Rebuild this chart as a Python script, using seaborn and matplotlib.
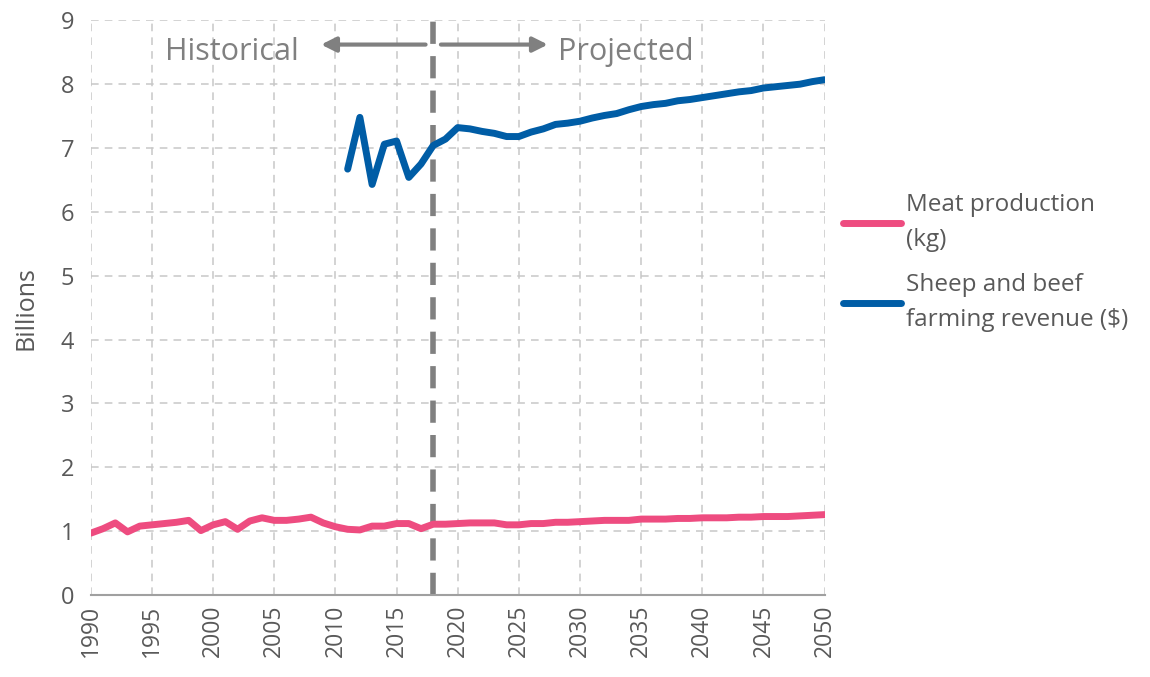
import pandas as pd
import numpy as np
from matplotlib import pyplot as plt
import seaborn as sns

# values (billions)
meat_years = list(range(1990, 2051))
meat_prod = [0.97, 1.04, 1.13, 0.99, 1.08, 1.10, 1.12, 1.14, 1.17, 1.01,
             1.10, 1.15, 1.03, 1.16, 1.21, 1.17, 1.17, 1.19, 1.22, 1.13,
             1.07, 1.03, 1.02, 1.08, 1.08, 1.12, 1.12, 1.04, 1.11, 1.11,
             1.12, 1.13, 1.13, 1.13, 1.10, 1.10, 1.12, 1.12, 1.14, 1.14,
             1.15, 1.16, 1.17, 1.17, 1.17, 1.19, 1.19, 1.19, 1.20, 1.20,
             1.21, 1.21, 1.21, 1.22, 1.22, 1.23, 1.23, 1.23, 1.24, 1.25,
             1.26]
rev_years = list(range(2011, 2051))
revenue = [6.67, 7.48, 6.43, 7.06, 7.11, 6.54, 6.75, 7.04, 7.14, 7.32,
           7.30, 7.26, 7.23, 7.18, 7.18, 7.25, 7.30, 7.37, 7.39, 7.42,
           7.47, 7.51, 7.54, 7.60, 7.65, 7.68, 7.70, 7.74, 7.76, 7.79,
           7.82, 7.85, 7.88, 7.90, 7.94, 7.96, 7.98, 8.00, 8.04, 8.07]

series_names = ["Meat production\n(kg)", "Sheep and beef\nfarming revenue ($)"]
colors = ["#EE4C80", "#005DA6"]

df = pd.concat([
    pd.DataFrame({"year": meat_years, "value": meat_prod, "series": series_names[0]}),
    pd.DataFrame({"year": rev_years, "value": revenue, "series": series_names[1]}),
])

sns.set_style("white")
plt.rcParams['font.family'] = ['Open Sans', 'DejaVu Sans']
grey = "#595959"

fig = plt.figure(figsize=(11.5, 6.77), dpi=100)
ax = fig.add_axes([0.079, 0.121, 0.638, 0.849])

sns.lineplot(data=df, x="year", y="value", hue="series", palette=colors,
             linewidth=5, ax=ax)

ax.set_xlim(1990, 2050)
ax.set_ylim(0, 9)
ax.set_xticks(range(1990, 2051, 5))
ax.set_yticks(range(0, 10))
ax.grid(True, color="#C8C8C8", linestyle=(0, (5, 4)), linewidth=1.1)
for s in ["top", "right", "left"]:
    ax.spines[s].set_visible(False)
ax.spines["bottom"].set_color("#A0A0A0")
ax.spines["bottom"].set_linewidth(1.5)
ax.tick_params(axis="x", labelrotation=90, labelsize=16.5, colors=grey, length=0, pad=7)
ax.tick_params(axis="y", labelsize=17, colors=grey, length=0, pad=12)
ax.set_xlabel("")
ax.set_ylabel("Billions", fontsize=18, color=grey, labelpad=16)

# historical / projected split
ax.axvline(2018, color="#808080", linewidth=4, linestyle=(0, (4, 2.2)), zorder=1)
ax.annotate("", xy=(2008.6, 8.62), xytext=(2017.6, 8.62),
            arrowprops=dict(arrowstyle="-|>", color="#808080", lw=3, mutation_scale=22))
ax.annotate("", xy=(2027.6, 8.62), xytext=(2018.4, 8.62),
            arrowprops=dict(arrowstyle="-|>", color="#808080", lw=3, mutation_scale=22))
ax.text(1996.1, 8.38, "Historical", fontsize=22, color="#808080")
ax.text(2028.2, 8.38, "Projected", fontsize=22, color="#808080")

leg = ax.legend(loc="upper left", bbox_to_anchor=(1.025, 0.70), frameon=False,
                borderaxespad=0, borderpad=0,
                fontsize=17.5, handlelength=2.4, labelspacing=0.9, handletextpad=0.2)
for t in leg.get_texts():
    t.set_color(grey)
    t.set_linespacing(1.6)

plt.savefig("out.png", dpi=100)
